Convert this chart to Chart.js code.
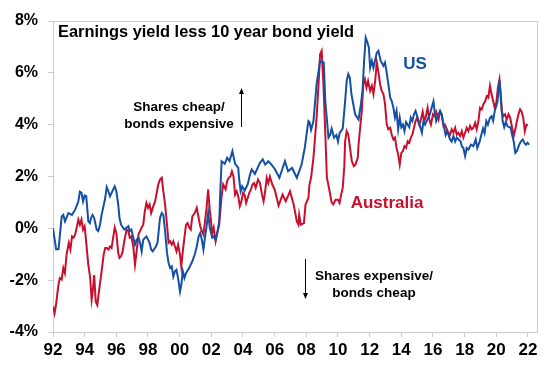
<!DOCTYPE html>
<html>
<head>
<meta charset="utf-8">
<script src="https://cdn.jsdelivr.net/npm/chart.js@4.4.1/dist/chart.umd.min.js"></script>
<style>
  html, body { margin: 0; padding: 0; background: #fff; }
  canvas { display: block; }
</style>
</head>
<body>
<canvas id="yieldChart" width="548" height="366"></canvas>
<script>
// Earnings yield less 10 year bond yield (%)
const usYears = [
  1992.0, 1992.2, 1992.35, 1992.55, 1992.65, 1992.76, 1992.97, 1993.2, 1993.4, 1993.6,
  1993.7, 1993.8, 1993.9, 1994.0, 1994.1, 1994.23, 1994.33, 1994.4, 1994.5, 1994.6,
  1994.76, 1994.86, 1994.97, 1995.07, 1995.3, 1995.39, 1995.5, 1995.6, 1995.7, 1995.8,
  1995.9, 1996.0, 1996.12, 1996.2, 1996.3, 1996.5, 1996.76, 1996.85, 1996.95, 1997.18,
  1997.28, 1997.4, 1997.5, 1997.6, 1997.7, 1997.9, 1998.1, 1998.2, 1998.3, 1998.5,
  1998.6, 1998.76, 1998.87, 1998.97, 1999.08, 1999.2, 1999.3, 1999.4, 1999.5, 1999.6,
  1999.7, 1999.8, 1999.9, 2000.02, 2000.1, 2000.2, 2000.3, 2000.4, 2000.6, 2000.7,
  2000.8, 2000.95, 2001.08, 2001.2, 2001.3, 2001.4, 2001.5, 2001.6, 2001.7, 2001.8,
  2001.9, 2002.06, 2002.15, 2002.27, 2002.4, 2002.5, 2002.55, 2002.65, 2002.85, 2003.0,
  2003.15, 2003.33, 2003.5, 2003.7, 2003.75, 2003.85, 2003.95, 2004.1, 2004.3, 2004.45,
  2004.55, 2004.75, 2005.07, 2005.25, 2005.4, 2005.6, 2005.8, 2006.0, 2006.3, 2006.65,
  2006.85, 2007.1, 2007.4, 2007.7, 2007.9, 2008.13, 2008.2, 2008.3, 2008.45, 2008.65,
  2008.87, 2009.1, 2009.2, 2009.4, 2009.5, 2009.6, 2009.75, 2009.9, 2010.0, 2010.1,
  2010.3, 2010.45, 2010.55, 2010.65, 2010.75, 2010.85, 2011.08, 2011.3, 2011.45, 2011.55,
  2011.65, 2011.75, 2011.85, 2011.95, 2012.03, 2012.14, 2012.24, 2012.45, 2012.55, 2012.7,
  2012.87, 2012.97, 2013.08, 2013.18, 2013.3, 2013.4, 2013.5, 2013.6, 2013.7, 2013.8,
  2013.9, 2014.0, 2014.1, 2014.2, 2014.3, 2014.5, 2014.6, 2014.7, 2014.8, 2014.9,
  2015.0, 2015.2, 2015.3, 2015.4, 2015.5, 2015.8, 2016.03, 2016.1, 2016.2, 2016.35,
  2016.45, 2016.55, 2016.7, 2016.8, 2016.9, 2017.08, 2017.18, 2017.29, 2017.4, 2017.5,
  2017.75, 2017.82, 2017.92, 2018.03, 2018.13, 2018.24, 2018.4, 2018.55, 2018.7, 2018.8,
  2018.95, 2019.05, 2019.16, 2019.26, 2019.37, 2019.47, 2019.6, 2019.7, 2019.8, 2019.9,
  2020.0, 2020.08, 2020.13, 2020.2, 2020.28, 2020.4, 2020.5, 2020.6, 2020.7, 2020.8,
  2020.9, 2021.0, 2021.1, 2021.2, 2021.3, 2021.45, 2021.55, 2021.67, 2021.77, 2021.87,
  2021.97, 2022.08
];
const usGap = [
  0.0, -0.81, -0.8, 0.46, 0.52, 0.27, 0.59, 0.52, 0.72, 1.04,
  1.41, 1.37, 1.04, 1.27, 1.24, 0.27, 0.2, 0.4, 0.52, 0.4,
  -0.05, -0.1, 0.14, 0.52, 1.17, 1.59, 1.43, 1.24, 1.37, 1.5,
  1.62, 1.43, 0.92, 0.4, 0.14, -0.05, 0.08, -0.1, -0.05, -0.63,
  -0.44, -0.36, -0.56, -0.89, -0.44, -0.31, -0.56, -0.82, -0.89, -0.7,
  -0.56, 0.4, 0.59, 0.52, -0.1, -0.95, -1.34, -1.53, -1.47, -1.86,
  -1.66, -1.6, -1.92, -2.44, -2.19, -1.66, -1.92, -1.73, -1.53, -1.4,
  -1.27, -1.01, -0.7, -0.31, -0.18, -0.44, -0.82, -0.36, 0.08, 0.59,
  0.03, -0.36, -0.31, -0.44, -0.1, 0.14, 1.17, 2.59, 2.49, 2.72,
  2.6, 2.98, 2.49, 2.33, 1.95, 1.43, 1.62, 1.45, 1.7, 2.1,
  2.27, 2.1, 2.53, 2.66, 2.46, 2.59, 2.46, 2.3, 1.95, 2.59,
  2.2, 2.33, 1.95, 2.46, 3.1, 4.14, 4.1, 3.8, 4.14, 5.56,
  6.46, 6.4, 4.9, 3.5, 3.6, 3.85, 3.5, 3.6, 3.35, 3.67,
  3.85, 4.9, 5.69, 5.95, 5.8, 5.18, 4.4, 4.2, 4.8, 5.3,
  6.46, 7.36, 7.2, 6.98, 6.2, 6.46, 6.2, 6.78, 6.85, 6.46,
  6.27, 6.4, 6.0, 5.56, 5.04, 4.9, 4.65, 4.27, 4.53, 3.82,
  4.27, 3.9, 4.0, 3.75, 4.1, 3.9, 4.27, 4.14, 4.4, 4.53,
  4.33, 3.9, 3.69, 4.14, 4.0, 4.4, 4.9, 4.53, 4.14, 4.4,
  4.53, 4.4, 3.9, 3.6, 3.75, 3.43, 3.35, 3.56, 3.35, 3.5,
  3.35, 3.17, 3.1, 2.79, 3.1, 3.04, 3.23, 3.17, 3.43, 3.1,
  3.35, 3.6, 3.85, 3.67, 4.14, 4.0, 4.27, 4.33, 4.14, 4.53,
  4.72, 4.9, 5.3, 5.7, 5.04, 4.14, 3.9, 4.1, 3.95, 3.9,
  3.9, 3.6, 3.35, 2.91, 2.98, 3.23, 3.35, 3.43, 3.3, 3.23,
  3.3, 3.23
];

const ausYears = [
  1992.0, 1992.1, 1992.2, 1992.33, 1992.43, 1992.55, 1992.65, 1992.75, 1992.86, 1993.0,
  1993.1, 1993.2, 1993.3, 1993.4, 1993.5, 1993.6, 1993.7, 1993.8, 1993.9, 1994.0,
  1994.1, 1994.23, 1994.35, 1994.44, 1994.5, 1994.6, 1994.7, 1994.8, 1994.9, 1995.07,
  1995.2, 1995.3, 1995.4, 1995.5, 1995.6, 1995.7, 1995.8, 1995.9, 1996.0, 1996.12,
  1996.2, 1996.3, 1996.4, 1996.5, 1996.65, 1996.75, 1996.85, 1996.95, 1997.07, 1997.18,
  1997.28, 1997.4, 1997.5, 1997.6, 1997.7, 1997.8, 1997.9, 1998.0, 1998.1, 1998.2,
  1998.3, 1998.45, 1998.55, 1998.65, 1998.76, 1998.87, 1998.97, 1999.08, 1999.2, 1999.3,
  1999.4, 1999.5, 1999.6, 1999.7, 1999.8, 1999.9, 2000.02, 2000.1, 2000.2, 2000.3,
  2000.4, 2000.5, 2000.6, 2000.7, 2000.8, 2000.95, 2001.08, 2001.2, 2001.3, 2001.4,
  2001.5, 2001.6, 2001.7, 2001.8, 2001.9, 2002.06, 2002.15, 2002.27, 2002.4, 2002.5,
  2002.55, 2002.65, 2002.75, 2002.9, 2003.0, 2003.1, 2003.2, 2003.3, 2003.4, 2003.5,
  2003.6, 2003.7, 2003.8, 2003.9, 2004.0, 2004.1, 2004.2, 2004.3, 2004.4, 2004.5,
  2004.6, 2004.7, 2004.8, 2004.95, 2005.07, 2005.2, 2005.3, 2005.4, 2005.5, 2005.6,
  2005.7, 2005.85, 2006.0, 2006.25, 2006.5, 2006.7, 2006.97, 2007.2, 2007.4, 2007.5,
  2007.55, 2007.65, 2007.85, 2007.95, 2008.13, 2008.2, 2008.3, 2008.45, 2008.65, 2008.76,
  2008.87, 2008.97, 2009.08, 2009.2, 2009.3, 2009.45, 2009.6, 2009.7, 2009.85, 2010.0,
  2010.1, 2010.2, 2010.3, 2010.4, 2010.45, 2010.55, 2010.65, 2010.76, 2010.87, 2011.0,
  2011.1, 2011.25, 2011.3, 2011.4, 2011.5, 2011.6, 2011.7, 2011.8, 2011.9, 2012.03,
  2012.14, 2012.24, 2012.35, 2012.45, 2012.56, 2012.66, 2012.76, 2012.87, 2012.97, 2013.08,
  2013.18, 2013.3, 2013.4, 2013.5, 2013.6, 2013.7, 2013.8, 2013.9, 2014.0, 2014.1,
  2014.2, 2014.3, 2014.4, 2014.5, 2014.6, 2014.7, 2014.8, 2014.9, 2015.0, 2015.13,
  2015.24, 2015.35, 2015.45, 2015.56, 2015.66, 2015.77, 2015.87, 2016.0, 2016.1, 2016.2,
  2016.35, 2016.45, 2016.55, 2016.66, 2016.76, 2016.87, 2016.97, 2017.08, 2017.18, 2017.29,
  2017.4, 2017.5, 2017.6, 2017.71, 2017.82, 2017.92, 2018.03, 2018.13, 2018.24, 2018.34,
  2018.45, 2018.55, 2018.66, 2018.76, 2018.87, 2018.97, 2019.08, 2019.18, 2019.3, 2019.4,
  2019.5, 2019.6, 2019.7, 2019.8, 2019.9, 2020.0, 2020.1, 2020.2, 2020.28, 2020.35,
  2020.45, 2020.55, 2020.66, 2020.77, 2020.87, 2021.0, 2021.1, 2021.2, 2021.3, 2021.4,
  2021.5, 2021.6, 2021.7, 2021.8, 2021.9, 2022.0
];
const ausGap = [
  -3.02, -3.28, -2.9, -2.24, -1.92, -1.98, -1.53, -1.73, -1.0, -0.56,
  -0.82, -0.31, -0.36, -0.24, 0.03, 0.34, 0.14, 0.34, -0.05, 0.08,
  -0.56, -1.4, -1.92, -2.76, -2.5, -1.8, -2.83, -2.96, -2.44, -1.66,
  -1.01, -0.76, -0.76, -0.82, -0.7, -0.76, -0.36, 0.03, -0.18, -0.95,
  -1.14, -1.08, -0.89, -0.5, -0.05, -0.1, -0.36, -0.31, -0.7, -1.4,
  -0.89, -0.24, -0.1, 0.03, 0.14, 0.66, 0.98, 0.79, 0.92, 0.59,
  0.79, 1.04, 1.37, 1.69, 1.88, 1.95, 1.43, 0.92, 0.14, -0.56,
  -0.5, -0.63, -0.5, -0.7, -0.89, -0.63, -1.01, -1.47, -0.89, -0.36,
  0.14, 0.2, 0.03, -0.05, 0.46, 0.59, 0.79, 0.4, 0.08, -0.1,
  -0.24, 0.27, 0.79, 1.5, 0.72, -0.18, 0.03, -0.5, -0.1, 0.27,
  0.52, 1.24, 1.69, 1.5, 1.82, 1.95, 2.0, 2.2, 2.0, 1.3,
  1.43, 1.24, 0.85, 1.04, 1.37, 1.3, 0.98, 1.17, 1.37, 1.5,
  1.69, 1.75, 1.56, 1.88, 1.75, 1.3, 1.04, 1.43, 1.95, 1.75,
  2.0, 1.69, 1.5, 0.88, 1.3, 1.04, 1.43, 0.92, 0.27, 0.14,
  0.52, 0.14, 0.2, 0.92, 1.17, 1.69, 1.95, 2.72, 4.27, 5.43,
  6.72, 6.85, 5.56, 3.62, 1.95, 1.5, 1.0, 0.92, 1.1, 1.1,
  0.98, 1.3, 1.56, 2.4, 3.36, 3.75, 3.62, 3.1, 2.6, 2.4,
  2.46, 2.72, 3.23, 3.88, 4.5, 5.56, 5.75, 5.43, 5.69, 5.3,
  5.5, 5.18, 5.69, 6.4, 6.0, 5.56, 5.3, 5.18, 4.8, 4.01,
  3.82, 3.88, 3.6, 3.43, 3.5, 3.1, 2.85, 2.46, 2.91, 2.98,
  3.17, 3.1, 3.36, 3.3, 3.5, 3.62, 3.88, 4.14, 4.27, 4.0,
  4.2, 4.5, 4.14, 4.33, 4.65, 4.2, 4.0, 4.4, 4.33, 4.5,
  4.2, 4.5, 4.4, 3.95, 4.0, 3.82, 3.69, 3.62, 3.82, 3.69,
  3.88, 3.62, 3.69, 3.56, 3.75, 3.5, 3.69, 3.88, 3.75, 3.95,
  3.82, 3.88, 4.07, 3.82, 4.14, 4.65, 4.59, 4.78, 4.91, 5.1,
  5.04, 5.5, 5.18, 4.91, 4.65, 4.85, 5.43, 5.75, 5.18, 4.5,
  4.33, 4.4, 4.2, 4.4, 4.27, 3.88, 3.56, 3.82, 4.14, 4.4,
  4.59, 4.5, 4.27, 3.75, 4.0, 3.97
];

const xTickYears = [1992, 1994, 1996, 1998, 2000, 2002, 2004, 2006, 2008, 2010, 2012, 2014, 2016, 2018, 2020, 2022];
const yTickValues = [-4, -2, 0, 2, 4, 6, 8];

const usBlue = '#1550a5';
const ausRed = '#c8102e';
const axisGrey = '#cccccc';
const fontFamily = '"Liberation Sans", Arial, sans-serif';

function toPoints(years, values) {
  return years.map((x, i) => ({ x: x, y: values[i] }));
}

function arrow(ctx, x, yFrom, yTo) {
  const dir = yTo < yFrom ? -1 : 1;
  ctx.beginPath();
  ctx.moveTo(x, yFrom);
  ctx.lineTo(x, yTo - dir * 5);
  ctx.stroke();
  ctx.beginPath();
  ctx.moveTo(x, yTo);
  ctx.lineTo(x - 2.5, yTo - dir * 6);
  ctx.lineTo(x + 2.5, yTo - dir * 6);
  ctx.closePath();
  ctx.fill();
}

// frame, title and the notes inside the plot
const notes = {
  id: 'notes',
  beforeDatasetsDraw(chart) {
    const { ctx, chartArea: a } = chart;
    ctx.save();
    ctx.strokeStyle = axisGrey;
    ctx.lineWidth = 1;
    ctx.beginPath();
    ctx.moveTo(a.left, a.top + 0.5);
    ctx.lineTo(a.right + 0.5, a.top + 0.5);
    ctx.lineTo(a.right + 0.5, a.bottom);
    ctx.stroke();
    ctx.restore();
  },
  afterDraw(chart) {
    const { ctx } = chart;
    ctx.save();
    ctx.textBaseline = 'alphabetic';

    ctx.fillStyle = '#000';
    ctx.textAlign = 'left';
    ctx.font = 'bold 16.4px ' + fontFamily;
    ctx.fillText('Earnings yield less 10 year bond yield', 58, 37);

    ctx.textAlign = 'center';
    ctx.font = 'bold 13.5px ' + fontFamily;
    ctx.fillText('Shares cheap/', 179, 111);
    ctx.fillText('bonds expensive', 179, 128);
    ctx.fillText('Shares expensive/', 374, 280);
    ctx.fillText('bonds cheap', 374, 297);

    ctx.strokeStyle = '#000';
    ctx.lineWidth = 1;
    arrow(ctx, 241.5, 127, 88);
    arrow(ctx, 305.5, 259, 299);

    ctx.font = 'bold 17px ' + fontFamily;
    ctx.fillStyle = usBlue;
    ctx.fillText('US', 415, 69);
    ctx.fillStyle = ausRed;
    ctx.fillText('Australia', 387, 208);
    ctx.restore();
  }
};

new Chart(document.getElementById('yieldChart'), {
  type: 'line',
  data: {
    datasets: [
      {
        label: 'US',
        data: toPoints(usYears, usGap),
        borderColor: usBlue,
        borderWidth: 2,
        pointRadius: 0,
        tension: 0
      },
      {
        label: 'Australia',
        data: toPoints(ausYears, ausGap),
        borderColor: ausRed,
        borderWidth: 2,
        pointRadius: 0,
        tension: 0
      }
    ]
  },
  options: {
    responsive: false,
    animation: false,
    layout: { padding: { top: 21, right: 11, left: 0, bottom: 0 } },
    plugins: {
      legend: { display: false },
      tooltip: { enabled: false }
    },
    scales: {
      x: {
        type: 'linear',
        min: 1992,
        max: 2022.57,
        afterBuildTicks: (s) => { s.ticks = xTickYears.map(v => ({ value: v })); },
        afterFit: (s) => { s.height = 34; },
        ticks: {
          autoSkip: false,
          maxRotation: 0,
          padding: 3,
          color: '#000',
          font: { family: fontFamily, size: 17, weight: 'bold' },
          callback: (v) => String(v % 100).padStart(2, '0')
        },
        grid: { drawOnChartArea: false, tickLength: 5, color: axisGrey },
        border: { color: axisGrey }
      },
      y: {
        min: -4,
        max: 8,
        afterBuildTicks: (s) => { s.ticks = yTickValues.map(v => ({ value: v })); },
        afterFit: (s) => { s.width = 53; },
        ticks: {
          padding: 10,
          color: '#000',
          font: { family: fontFamily, size: 16, weight: 'bold' },
          callback: (v) => v + '%'
        },
        grid: { drawOnChartArea: false, tickLength: 5, color: axisGrey },
        border: { color: axisGrey }
      }
    }
  },
  plugins: [notes]
});
</script>
</body>
</html>
